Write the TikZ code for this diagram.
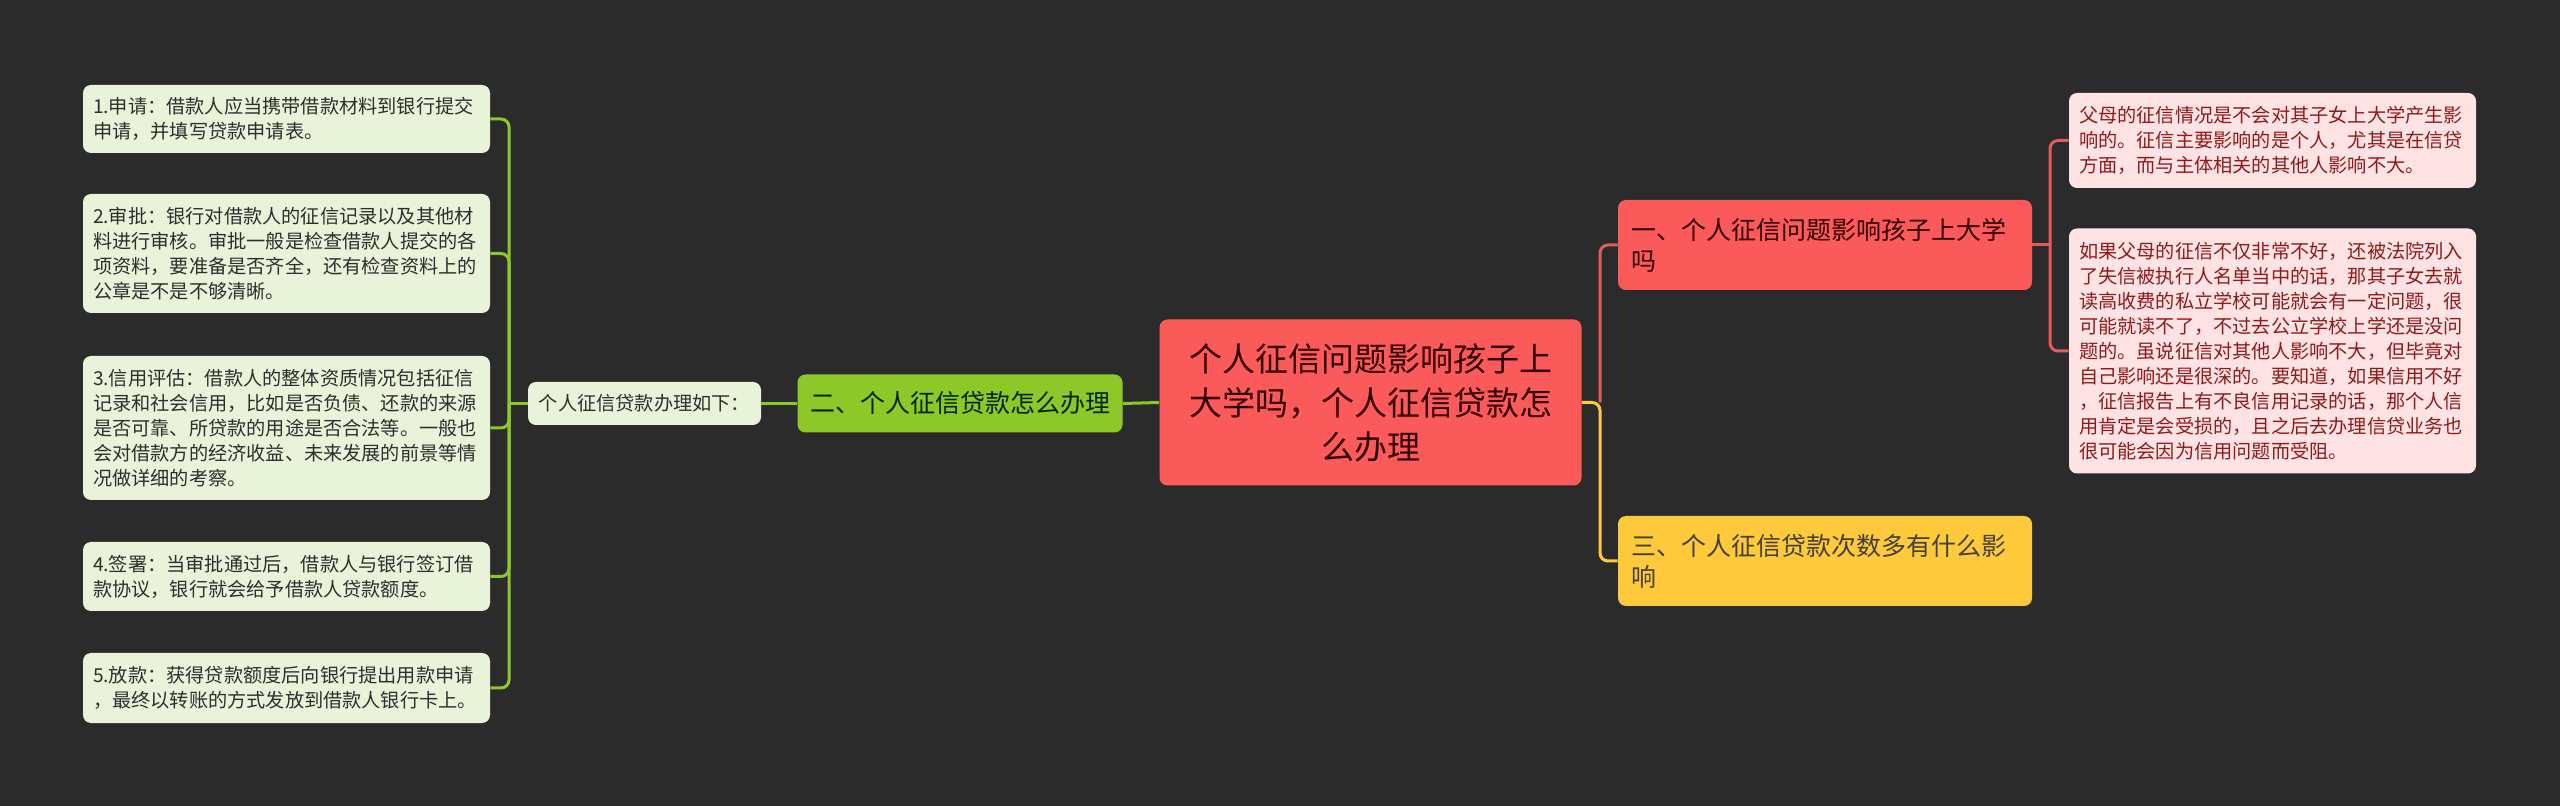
\documentclass[tikz,border=0pt]{standalone}
\usepackage{fontspec}
\usepackage{xcolor}
\usepackage{tikz}
\newfontfamily\cjk{Noto Sans CJK SC}
\definecolor{bg}{HTML}{2B2B2B}
\definecolor{rootred}{HTML}{FA5A5A}
\definecolor{linkred}{HTML}{E25C5C}
\definecolor{branchgreen}{HTML}{8CC928}
\definecolor{branchyellow}{HTML}{FFC93C}
\definecolor{leafgreen}{HTML}{E9F3D9}
\definecolor{leafpink}{HTML}{FDE3E3}
\definecolor{darktext}{HTML}{2E2E2E}
\definecolor{pinktext}{HTML}{8E1B1B}

\begin{document}
\begin{tikzpicture}[
  x=0.5pt,
  y=-0.5pt,
  box/.style={rounded corners=4pt, inner ysep=2pt, text=darktext},
  root/.style={box, fill=rootred, minimum width=211pt, minimum height=83pt,
    align=center, font=\cjk\fontsize{16.5}{22}\selectfont, text=black!80!red},
  topic/.style={box, minimum width=207pt, minimum height=45pt, inner xsep=6.5pt,
    text width=194pt, align=left, font=\cjk\fontsize{12.5}{15.5}\selectfont},
  leaf/.style={box, minimum width=203.5pt, inner xsep=5pt, text width=193.5pt,
    align=left, font=\cjk\fontsize{9.6}{12.5}\selectfont},
  glink/.style={draw=branchgreen, line width=1.5pt, rounded corners=4pt},
  ylink/.style={draw=branchyellow, line width=1.5pt, rounded corners=4pt},
  rlink/.style={draw=linkred, line width=1.5pt, rounded corners=4pt}
]
  \fill[bg] (0,0) rectangle (2560,806);
  \useasboundingbox (0,0) rectangle (2560,806);

  % centre and main branches
  \node[root] (main) at (1370.5,402.5)
    {个人征信问题影响孩子上\\大学吗，个人征信贷款怎\\么办理};
  \node[box, fill=branchgreen, minimum width=162.5pt, minimum height=29pt,
    font=\cjk\fontsize{12.5}{15.5}\selectfont, text=black!85!green] (howto) at (960,403.5)
    {二、个人征信贷款怎么办理};
  \node[topic, fill=rootred, text=black!80!red] (kids) at (1825,245)
    {一、个人征信问题影响孩子上大学\\吗};
  \node[topic, fill=branchyellow, text=black!85!yellow] (times) at (1825,561)
    {三、个人征信贷款次数多有什么影\\响};

  % left side
  \node[box, fill=leafgreen, minimum width=116.5pt, minimum height=21.5pt,
    font=\cjk\fontsize{9.6}{12.5}\selectfont] (steps) at (644.5,403.5)
    {个人征信贷款办理如下：};
  \node[leaf, fill=leafgreen, minimum height=34pt] (apply) at (286.5,119)
    {1.申请：借款人应当携带借款材料到银行提交\\申请，并填写贷款申请表。};
  \node[leaf, fill=leafgreen, minimum height=59.5pt] (check) at (286.5,253.5)
    {2.审批：银行对借款人的征信记录以及其他材\\料进行审核。审批一般是检查借款人提交的各\\项资料，要准备是否齐全，还有检查资料上的\\公章是不是不够清晰。};
  \node[leaf, fill=leafgreen, minimum height=72pt] (rate) at (286.5,428)
    {3.信用评估：借款人的整体资质情况包括征信\\记录和社会信用，比如是否负债、还款的来源\\是否可靠、所贷款的用途是否合法等。一般也\\会对借款方的经济收益、未来发展的前景等情\\况做详细的考察。};
  \node[leaf, fill=leafgreen, minimum height=34.5pt] (sign) at (286.5,576.5)
    {4.签署：当审批通过后，借款人与银行签订借\\款协议，银行就会给予借款人贷款额度。};
  \node[leaf, fill=leafgreen, minimum height=35pt] (loan) at (286.5,688)
    {5.放款：获得贷款额度后向银行提出用款申请\\，最终以转账的方式发放到借款人银行卡上。};

  % right side
  \node[leaf, fill=leafpink, text=pinktext, minimum height=47.5pt] (parents) at (2272.5,140.5)
    {父母的征信情况是不会对其子女上大学产生影\\响的。征信主要影响的是个人，尤其是在信贷\\方面，而与主体相关的其他人影响不大。};
  \node[leaf, fill=leafpink, text=pinktext, minimum height=122.5pt] (badcase) at (2272.5,351)
    {如果父母的征信不仅非常不好，还被法院列入\\了失信被执行人名单当中的话，那其子女去就\\读高收费的私立学校可能就会有一定问题，很\\可能就读不了，不过去公立学校上学还是没问\\题的。虽说征信对其他人影响不大，但毕竟对\\自己影响还是很深的。要知道，如果信用不好\\，征信报告上有不良信用记录的话，那个人信\\用肯定是会受损的，且之后去办理信贷业务也\\很可能会因为信用问题而受阻。};

  \coordinate (lbus) at (509,403.5);
  \coordinate (rbus) at (1600,402.5);
  \coordinate (pbus) at (2050,245);

  \draw[glink] (main.west) -- (howto.east);
  \draw[glink] (howto.west) -- (steps.east);
  \draw[glink] (steps.west) -- (lbus);
  \foreach \leafname in {apply,check,rate,sign,loan}
    \draw[glink] (lbus) |- (\leafname.east);

  \draw[rlink] (rbus) |- (kids.west);
  \draw[ylink] (main.east) -- (rbus) |- (times.west);

  \draw[rlink] (kids.east) -- (pbus);
  \draw[rlink] (pbus) |- (parents.west);
  \draw[rlink] (pbus) |- (badcase.west);
\end{tikzpicture}
\end{document}
